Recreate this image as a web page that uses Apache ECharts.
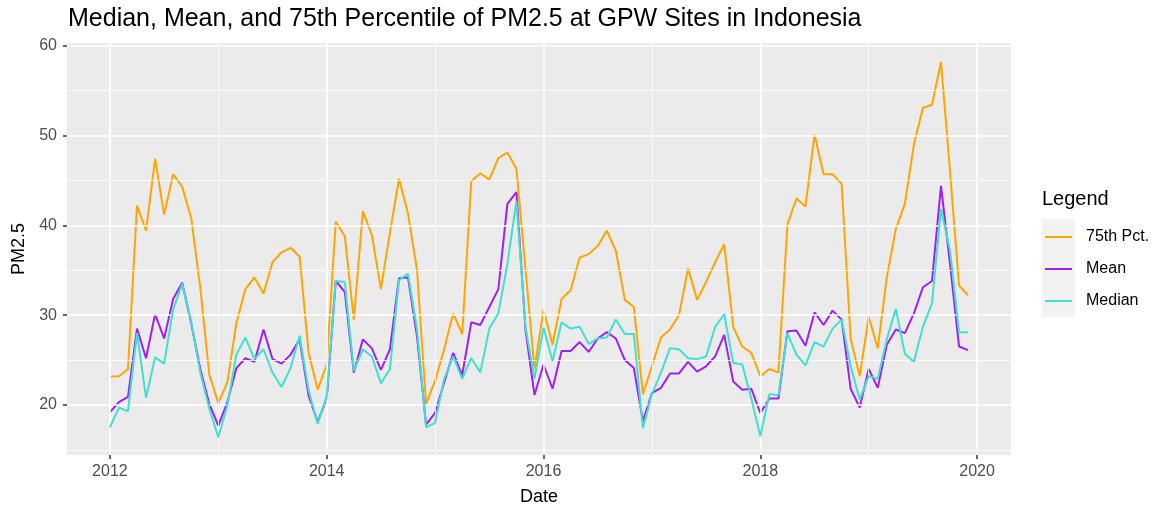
<!DOCTYPE html>
<html>
<head>
<meta charset="UTF-8">
<title>PM2.5 Indonesia</title>
<style>
  html, body { margin: 0; padding: 0; background: #fff; }
  #box { width: 1159px; height: 511px; }
</style>
</head>
<body>
<div id="box"></div>
<script src="https://cdn.jsdelivr.net/npm/echarts@6/dist/echarts.min.js"></script>
<script>
// monthly values, Jan 2012 .. Dec 2019
var years = [2012, 2013, 2014, 2015, 2016, 2017, 2018, 2019];

var pct75 = [
  23.15, 23.2, 24.0, 42.2, 39.4, 47.4, 41.2, 45.7, 44.3, 40.8, 33.1, 23.4,
  20.2, 22.5, 29.1, 32.9, 34.2, 32.4, 35.9, 37.0, 37.5, 36.5, 25.8, 21.7,
  24.5, 40.4, 38.8, 29.5, 41.6, 38.9, 32.9, 39.2, 45.2, 41.3, 35.0, 20.1,
  22.7, 26.2, 30.2, 27.9, 44.9, 45.8, 45.1, 47.5, 48.1, 46.3, 35.2, 24.0,
  30.6, 26.7, 31.8, 32.8, 36.4, 36.8, 37.7, 39.4, 37.2, 31.7, 30.9, 21.2,
  24.3, 27.5, 28.4, 30.0, 35.2, 31.7, 33.7, 35.9, 37.9, 28.7, 26.5, 25.8,
  23.2, 24.0, 23.6, 40.1, 43.0, 42.1, 50.1, 45.7, 45.7, 44.6, 27.4, 23.2,
  29.8, 26.3, 34.2, 39.6, 42.4, 49.0, 53.1, 53.4, 58.2, 46.0, 33.3, 32.2
];

var meanVals = [
  19.2, 20.3, 20.9, 28.5, 25.2, 30.1, 27.4, 31.8, 33.6, 29.1, 24.0, 20.1,
  17.7, 20.3, 24.1, 25.2, 24.8, 28.4, 25.1, 24.6, 25.6, 27.3, 21.0, 18.1,
  20.7, 33.8, 32.6, 23.6, 27.3, 26.3, 23.9, 26.2, 34.1, 34.2, 27.6, 17.8,
  19.1, 22.5, 25.8, 23.3, 29.2, 28.9, 30.9, 32.9, 42.4, 43.7, 28.4, 21.1,
  24.5, 21.8, 26.0, 26.0, 27.0, 25.9, 27.4, 28.1, 27.4, 25.0, 24.1, 18.2,
  21.3, 21.9, 23.5, 23.5, 24.8, 23.7, 24.3, 25.4, 27.8, 22.6, 21.7, 21.8,
  19.1, 20.7, 20.7, 28.2, 28.3, 26.6, 30.3, 28.9, 30.5, 29.5, 21.8, 19.7,
  24.0, 21.9, 26.7, 28.4, 28.0, 30.2, 33.1, 33.8, 44.4, 35.7, 26.5, 26.1
];

var medianVals = [
  17.5, 19.7, 19.3, 28.0, 20.8, 25.3, 24.6, 30.6, 33.5, 29.3, 23.6, 19.6,
  16.4, 19.9, 25.6, 27.5, 25.1, 26.2, 23.6, 22.0, 24.1, 27.7, 21.6, 17.9,
  21.0, 33.8, 33.7, 23.8, 26.2, 25.4, 22.4, 24.0, 33.9, 34.6, 28.4, 17.5,
  18.0, 22.9, 25.4, 22.9, 25.2, 23.6, 28.5, 30.2, 35.7, 42.7, 28.7, 22.9,
  28.6, 24.9, 29.2, 28.5, 28.7, 26.8, 27.4, 27.5, 29.5, 27.9, 27.9, 17.4,
  21.2, 23.6, 26.3, 26.2, 25.2, 25.1, 25.4, 28.7, 30.1, 24.7, 24.5, 20.7,
  16.5, 21.2, 21.1, 28.0, 25.6, 24.4, 27.0, 26.5, 28.5, 29.5, 24.3, 20.6,
  23.2, 22.9, 27.3, 30.7, 25.7, 24.8, 28.7, 31.3, 41.8, 37.2, 28.1, 28.1
];

var seriesNames = ['75th Pct.', 'Mean', 'Median'];
var colors = ['#FFA500', '#A020F0', '#40E0D0'];

var xMajor = [2012, 2014, 2016, 2018, 2020];
var xMinor = [2013, 2015, 2017, 2019];
var yMajor = [20, 30, 40, 50, 60];
var yMinor = [15, 25, 35, 45, 55];

// dates as decimal years (first of each month)
var dates = [];
years.forEach(function (y) {
  for (var m = 0; m < 12; m++) dates.push(y + m / 12);
});

var span = dates[dates.length - 1] - dates[0];
var xMin = dates[0] - span * 0.05;
var xMax = dates[dates.length - 1] + span * 0.05;
var yLo = 14.42, yHi = 60.31;

function pairs(vals) {
  return vals.map(function (v, i) { return [dates[i], v]; });
}

var gridLines = [];
xMajor.forEach(function (v) { gridLines.push({ xAxis: v, lineStyle: { width: 1.6 } }); });
xMinor.forEach(function (v) { gridLines.push({ xAxis: v, lineStyle: { width: 0.8 } }); });
yMajor.forEach(function (v) { gridLines.push({ yAxis: v, lineStyle: { width: 1.6 } }); });
yMinor.forEach(function (v) { gridLines.push({ yAxis: v, lineStyle: { width: 0.8 } }); });

var font = '"Liberation Sans", Arial, sans-serif';

var myechart = echarts.init(document.getElementById('box'));

var option = {
  animation: false,
  textStyle: { fontFamily: font },
  title: [{
    text: 'Median, Mean, and 75th Percentile of PM2.5 at GPW Sites in Indonesia',
    left: 63, top: 2,
    textStyle: { fontSize: 25, fontWeight: 'normal', color: '#000', fontFamily: font }
  }, {
    text: 'Legend',
    left: 1037, top: 184,
    textStyle: { fontSize: 20, fontWeight: 'normal', color: '#000', fontFamily: font }
  }],
  graphic: [{
    type: 'rect', left: 1042, top: 219, z: -1,
    shape: { width: 33, height: 98 },
    style: { fill: '#F2F2F2' }
  }],
  legend: {
    data: seriesNames,
    orient: 'vertical',
    left: 1045, top: 227,
    padding: 0,
    icon: 'rect',
    itemWidth: 27, itemHeight: 2,
    itemGap: 12,
    textStyle: { fontSize: 16, color: '#000', lineHeight: 20, padding: [0, 0, 0, 9], fontFamily: font }
  },
  grid: {
    left: 67, top: 43, width: 944, height: 417,
    show: true, backgroundColor: '#EBEBEB', borderWidth: 0
  },
  xAxis: {
    type: 'value',
    min: xMin, max: xMax,
    name: 'Date', nameLocation: 'middle', nameGap: 33,
    nameTextStyle: { fontSize: 18, color: '#000', fontFamily: font },
    axisLine: { show: false },
    axisTick: { show: true, length: 4, lineStyle: { color: '#333', width: 1.5 },
      customValues: xMajor },
    axisLabel: { fontSize: 16, color: '#4D4D4D', margin: 9,
      customValues: xMajor,
      formatter: function (v) { return String(Math.round(v)); } },
    splitLine: { show: false }
  },
  yAxis: {
    type: 'value',
    min: yLo, max: yHi,
    name: 'PM2.5', nameLocation: 'middle', nameGap: 39, nameRotate: 90,
    nameTextStyle: { fontSize: 18, color: '#000', fontFamily: font },
    axisLine: { show: false },
    axisTick: { show: true, length: 4, lineStyle: { color: '#333', width: 1.5 },
      customValues: yMajor },
    axisLabel: { fontSize: 16, color: '#4D4D4D', margin: 10, customValues: yMajor },
    splitLine: { show: false }
  },
  series: [{
    name: 'grid',
    type: 'line',
    data: [],
    z: 1,
    silent: true,
    markLine: {
      silent: true,
      symbol: 'none',
      label: { show: false },
      lineStyle: { color: '#FFFFFF', type: 'solid' },
      data: gridLines
    }
  }].concat(seriesNames.map(function (name, k) {
    var vals = [pct75, meanVals, medianVals][k];
    return {
      name: name,
      type: 'line',
      z: 3 + k,
      data: pairs(vals),
      showSymbol: false,
      symbol: 'none',
      color: colors[k],
      lineStyle: { color: colors[k], width: 2 }
    };
  }))
};

myechart.setOption(option);
</script>
</body>
</html>
